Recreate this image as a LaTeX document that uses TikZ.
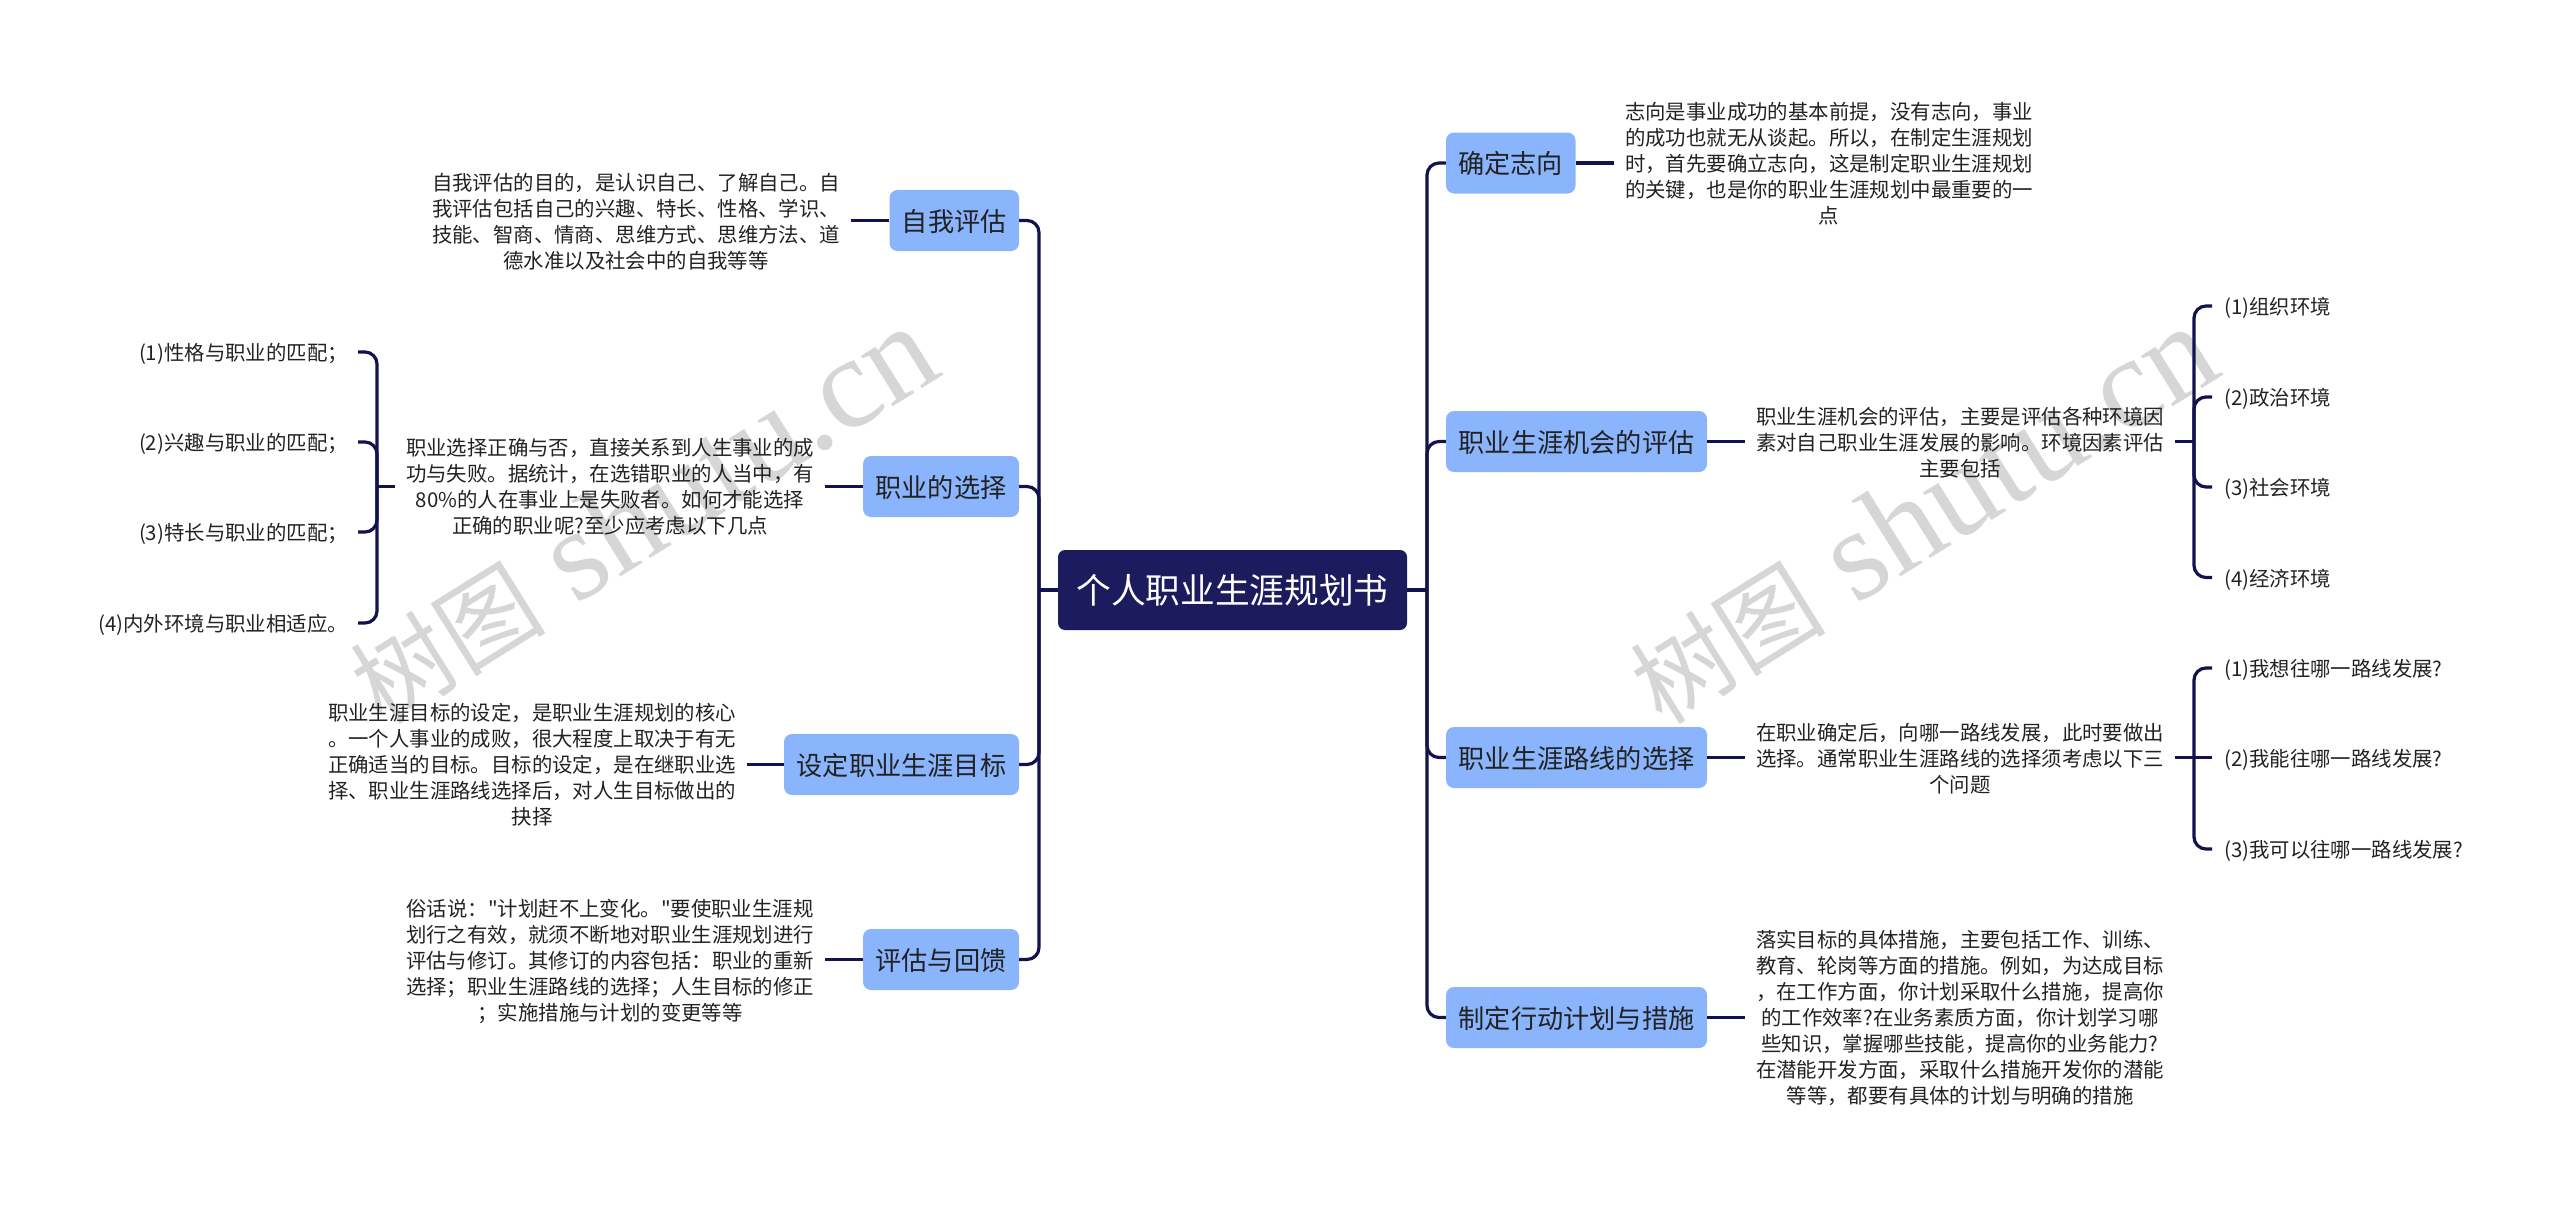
\documentclass[tikz,border=0pt]{standalone}
\usepackage{fontspec}
\newfontfamily\cjkbody{Noto Sans CJK SC}
\newfontfamily\wmlat{Liberation Serif}
\definecolor{navy}{HTML}{12124F}
\definecolor{rootc}{HTML}{1B1B5E}
\definecolor{topic}{HTML}{8AB4FB}
\definecolor{ink}{HTML}{222222}
\definecolor{wm}{HTML}{D6D6D6}
\tikzset{
  conn/.style={draw=navy,line width=3.2pt,rounded corners=12pt},
  rootnode/.style={fill=rootc,rounded corners=7pt,minimum width=349pt,minimum height=80pt,text=white,font=\cjkbody\fontsize{34.7}{40}\selectfont,inner sep=0pt},
  topicnode/.style={fill=topic,rounded corners=8pt,minimum height=61pt,text=ink,font=\cjkbody\fontsize{26.2}{30}\selectfont,inner sep=0pt,text height=24.5pt,text depth=3pt},
  body/.style={align=center,text=ink,font=\cjkbody\fontsize{20.4}{26}\selectfont,inner xsep=11pt,inner ysep=0pt},
  lefti/.style={text=ink,font=\cjkbody\fontsize{20.4}{26}\selectfont,inner xsep=10pt,inner ysep=0pt,anchor=east,text height=20pt,text depth=2.2pt},
  righti/.style={text=ink,font=\cjkbody\fontsize{20.4}{26}\selectfont,inner xsep=12pt,inner ysep=0pt,anchor=west,text height=20pt,text depth=2.2pt},
  watermark/.style={text=wm,rotate=32,inner sep=0pt,anchor=base}
}
\newcommand{\wmtext}{{\cjkbody\fontsize{98}{108}\selectfont 树图}\hspace{32pt}{\wmlat\fontsize{130}{140}\selectfont shutu.cn}}
\begin{document}
\begin{tikzpicture}[x=1pt,y=-1pt]
\useasboundingbox (0,0) rectangle (2560,1207);
% watermarks
\node[watermark] (wma) at (664,550) {\wmtext};
\node[watermark] (wmb) at (1944,550) {\wmtext};
% root and trunk points
\node[rootnode] (root) at (1232.5,590) {个人职业生涯规划书};
\coordinate (tl) at (1039,590);
\coordinate (tr) at (1427,590);
% left topics
\node[topicnode,minimum width=129.5pt] (a1) at (954.25,220.5) {自我评估};
\node[topicnode,minimum width=156pt] (a2) at (941,486.5) {职业的选择};
\node[topicnode,minimum width=235pt] (a3) at (901.5,764.5) {设定职业生涯目标};
\node[topicnode,minimum width=156pt] (a4) at (941,959.5) {评估与回馈};
% right topics
\node[topicnode,minimum width=129.5pt] (b1) at (1510.75,163) {确定志向};
\node[topicnode,minimum width=261pt] (b2) at (1576.5,441.5) {职业生涯机会的评估};
\node[topicnode,minimum width=261pt] (b3) at (1576.5,757.5) {职业生涯路线的选择};
\node[topicnode,minimum width=261pt] (b4) at (1576.5,1017.5) {制定行动计划与措施};
% left bodies
\node[body] (ta1) at (636,222) {自我评估的目的，是认识自己、了解自己。自\\我评估包括自己的兴趣、特长、性格、学识、\\技能、智商、情商、思维方式、思维方法、道\\德水准以及社会中的自我等等};
\node[body] (ta2) at (610,487) {职业选择正确与否，直接关系到人生事业的成\\功与失败。据统计，在选错职业的人当中，有\\80\%的人在事业上是失败者。如何才能选择\\正确的职业呢?至少应考虑以下几点};
\node[body] (ta3) at (532,765) {职业生涯目标的设定，是职业生涯规划的核心\\。一个人事业的成败，很大程度上取决于有无\\正确适当的目标。目标的设定，是在继职业选\\择、职业生涯路线选择后，对人生目标做出的\\抉择};
\node[body] (ta4) at (610,961) {俗话说："计划赶不上变化。"要使职业生涯规\\划行之有效，就须不断地对职业生涯规划进行\\评估与修订。其修订的内容包括：职业的重新\\选择；职业生涯路线的选择；人生目标的修正\\；实施措施与计划的变更等等};
% right bodies
\node[body] (tb1) at (1829,164) {志向是事业成功的基本前提，没有志向，事业\\的成功也就无从谈起。所以，在制定生涯规划\\时，首先要确立志向，这是制定职业生涯规划\\的关键，也是你的职业生涯规划中最重要的一\\点};
\node[body] (tb2) at (1960,442.5) {职业生涯机会的评估，主要是评估各种环境因\\素对自己职业生涯发展的影响。环境因素评估\\主要包括};
\node[body] (tb3) at (1960,758.5) {在职业确定后，向哪一路线发展，此时要做出\\选择。通常职业生涯路线的选择须考虑以下三\\个问题};
\node[body] (tb4) at (1960,1018) {落实目标的具体措施，主要包括工作、训练、\\教育、轮岗等方面的措施。例如，为达成目标\\，在工作方面，你计划采取什么措施，提高你\\的工作效率?在业务素质方面，你计划学习哪\\些知识，掌握哪些技能，提高你的业务能力?\\在潜能开发方面，采取什么措施开发你的潜能\\等等，都要有具体的计划与明确的措施};
% left items
\coordinate (la2) at (377,486.5);
\node[lefti] (l1) at (358,352) {(1)性格与职业的匹配；};
\node[lefti] (l2) at (358,442) {(2)兴趣与职业的匹配；};
\node[lefti] (l3) at (358,532) {(3)特长与职业的匹配；};
\node[lefti] (l4) at (358,623) {(4)内外环境与职业相适应。};
% right items
\coordinate (rb2) at (2194,441.5);
\coordinate (rb3) at (2194,757.5);
\node[righti] (r1) at (2212,306) {(1)组织环境};
\node[righti] (r2) at (2212,397) {(2)政治环境};
\node[righti] (r3) at (2212,487) {(3)社会环境};
\node[righti] (r4) at (2212,577.5) {(4)经济环境};
\node[righti] (s1) at (2212,668) {(1)我想往哪一路线发展?};
\node[righti] (s2) at (2212,757.5) {(2)我能往哪一路线发展?};
\node[righti] (s3) at (2212,849) {(3)我可以往哪一路线发展?};
% connectors
\foreach \n in {a1,a2,a3,a4} \draw[conn] (\n.east) -| (tl);
\foreach \n in {b1,b2,b3,b4} \draw[conn] (\n.west) -| (tr);
\draw[conn] (root.west) -- (tl);
\draw[conn] (root.east) -- (tr);
\draw[conn] (a1.west) -- (ta1.east |- a1.west);
\draw[conn] (a2.west) -- (ta2.east |- a2.west);
\draw[conn] (a3.west) -- (ta3.east |- a3.west);
\draw[conn] (a4.west) -- (ta4.east |- a4.west);
\draw[conn] (b1.east) -- (tb1.west |- b1.east);
\draw[conn] (b2.east) -- (tb2.west |- b2.east);
\draw[conn] (b3.east) -- (tb3.west |- b3.east);
\draw[conn] (b4.east) -- (tb4.west |- b4.east);
\draw[conn] (ta2.west |- la2) -- (la2);
\draw[conn] (tb2.east |- rb2) -- (rb2);
\draw[conn] (tb3.east |- rb3) -- (rb3);
\draw[conn] (rb3) -- (s2.west);
\foreach \n in {l1,l2,l3,l4} \draw[conn] (\n.east) -| (la2);
\foreach \n in {r1,r2,r3,r4} \draw[conn] (\n.west) -| (rb2);
\foreach \n in {s1,s3} \draw[conn] (\n.west) -| (rb3);
\end{tikzpicture}
\end{document}
